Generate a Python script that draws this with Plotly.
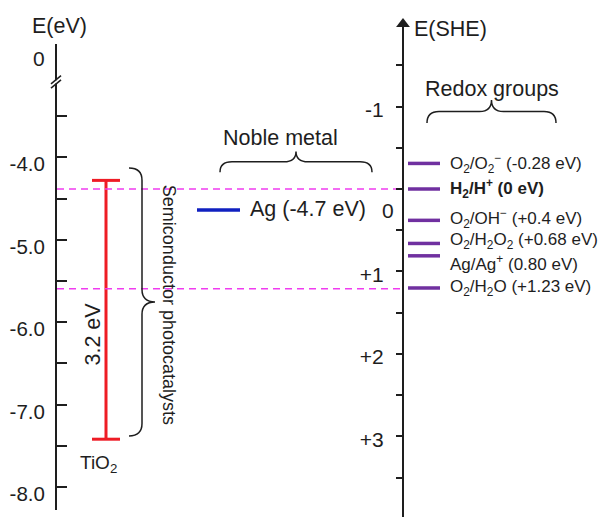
import plotly.graph_objects as go

# ---------------------------------------------------------
# 1. Data
# ---------------------------------------------------------
# left axis: absolute energy E(eV)
left_ticks = [-4, -5, -6, -7, -8]
left_tick_text = ["-4.0", "-5.0", "-6.0", "-7.0", "-8.0"]
left_minor = [-3.5, -4.5, -5.5, -6.5, -7.5]
left_break_top = -2.63          # broken axis: this tick stands for 0 eV

# right axis: E vs SHE
she_ticks = [-1, 0, 1, 2, 3]
she_tick_text = ["-1", "", "+1", "+2", "+3"]
she_minor = [-1.5, -0.5, 0.5, 1.5, 2.5, 3.5]

# TiO2 band edges and Ag work function (eV)
tio2_cb = -4.28
tio2_vb = -7.42
ag_level = -4.64

# redox couples (V vs SHE)
redox_levels = [-0.31, 0.0, 0.38, 0.66, 0.81, 1.2]
redox_label_pos = [-0.31, 0.0, 0.36, 0.63, 0.9, 1.2]
redox_labels = [
    "O<sub>2</sub>/O<sub>2</sub><sup>−</sup> (-0.28 eV)",
    "<b>H<sub>2</sub>/H<sup>+</sup> (0 eV)</b>",
    "O<sub>2</sub>/OH<sup>−</sup> (+0.4 eV)",
    "O<sub>2</sub>/H<sub>2</sub>O<sub>2</sub> (+0.68 eV)",
    "Ag/Ag<sup>+</sup> (0.80 eV)",
    "O<sub>2</sub>/H<sub>2</sub>O (+1.23 eV)",
]
dashed_levels = [0.0, 1.21]

FONT = "Liberation Sans, Arial, sans-serif"
INK = "#1e1e1e"
PURPLE = "#7030a0"
RED = "#ee1c25"
MAGENTA = "#f03cf0"


def hbrace(x1, x2, y_end, y_tip, r):
    ym = (y_end + y_tip) / 2
    xm = (x1 + x2) / 2
    return (f"M{x1},{y_end} Q{x1},{ym} {x1 + r},{ym} L{xm - r},{ym} "
            f"Q{xm},{ym} {xm},{y_tip} Q{xm},{ym} {xm + r},{ym} "
            f"L{x2 - r},{ym} Q{x2},{ym} {x2},{y_end}")


def vbrace(y1, y2, x_end, x_tip, r):
    xm = (x_end + x_tip) / 2
    ym = (y1 + y2) / 2
    return (f"M{x_end},{y1} Q{xm},{y1} {xm},{y1 - r} L{xm},{ym + r} "
            f"Q{xm},{ym} {x_tip},{ym} Q{xm},{ym} {xm},{ym - r} "
            f"L{xm},{y2 + r} Q{xm},{y2} {x_end},{y2}")


fig = go.Figure()

# ---------------------------------------------------------
# 2. Marks
# ---------------------------------------------------------
# dashed reference lines (H2/H+ and O2/H2O)
for lvl in dashed_levels:
    fig.add_trace(go.Scatter(
        x=[57, 403], y=[lvl, lvl], yaxis="y2", mode="lines",
        line=dict(color=MAGENTA, width=1.5, dash="7px,5px"),
        hoverinfo="skip"))

# TiO2 band gap
fig.add_trace(go.Scatter(
    x=[106, 106], y=[tio2_cb, tio2_vb], mode="lines+markers",
    line=dict(color=RED, width=3),
    marker=dict(symbol="line-ew", size=20, line=dict(color=RED, width=3)),
    hoverinfo="skip"))

# Ag level
fig.add_trace(go.Scatter(
    x=[197, 240], y=[ag_level, ag_level], mode="lines",
    line=dict(color="#1020c0", width=3.5), hoverinfo="skip"))

# redox levels
rx, ry = [], []
for lvl in redox_levels:
    rx += [408, 440, None]
    ry += [lvl, lvl, None]
fig.add_trace(go.Scatter(
    x=rx, y=ry, yaxis="y2", mode="lines",
    line=dict(color=PURPLE, width=3.5), hoverinfo="skip"))

# axis arrow heads
fig.add_trace(go.Scatter(
    x=[56], y=[-8.33], mode="markers", cliponaxis=False,
    marker=dict(symbol="triangle-down", size=12, color=INK), hoverinfo="skip"))
fig.add_trace(go.Scatter(
    x=[403], y=[-2.0], yaxis="y2", mode="markers", cliponaxis=False,
    marker=dict(symbol="triangle-up", size=12, color=INK), hoverinfo="skip"))

# ---------------------------------------------------------
# 3. Braces, axis break
# ---------------------------------------------------------
shapes = [
    dict(type="path", xref="x", yref="y",
         path=vbrace(-4.13, -7.38, 129, 155, 0.15),
         line=dict(color=INK, width=1.5)),
    dict(type="path", xref="x", yref="y",
         path=hbrace(220, 372, -4.18, -3.93, 12),
         line=dict(color=INK, width=1.5)),
    dict(type="path", xref="x", yref="y2",
         path=hbrace(427, 556, -0.8, -1.08, 12),
         line=dict(color=INK, width=1.5)),
    dict(type="rect", xref="x", yref="y", x0=53, x1=59, y0=-3.065, y1=-3.105,
         fillcolor="white", line=dict(width=0)),
    dict(type="line", xref="x", yref="y", x0=51, x1=61, y0=-3.11, y1=-3.01,
         line=dict(color=INK, width=1.5)),
    dict(type="line", xref="x", yref="y", x0=51, x1=61, y0=-3.16, y1=-3.06,
         line=dict(color=INK, width=1.5)),
]

# ---------------------------------------------------------
# 4. Text
# ---------------------------------------------------------
ann = [
    dict(x=59, y=0.950, yref="paper", text="E(eV)", font=dict(size=21.5)),
    dict(x=450, y=0.944, yref="paper", text="E(SHE)", font=dict(size=21.5)),
    dict(x=47, y=-2.8, yref="y", xanchor="right", text="0", font=dict(size=21)),
    dict(x=388, y=0.26, yref="y2", text="0", font=dict(size=21)),
    dict(x=492, y=-1.21, yref="y2", text="Redox groups", font=dict(size=21.5)),
    dict(x=280, y=-3.76, yref="y", text="Noble metal", font=dict(size=21.5)),
    dict(x=248, y=-4.63, yref="y", xanchor="left", text="Ag (-4.7 eV)", font=dict(size=21.5)),
    dict(x=93, y=-6.15, yref="y", text="3.2 eV", textangle=-90, font=dict(size=21.5)),
    dict(x=98, y=-7.72, yref="y", text="TiO<sub>2</sub>", font=dict(size=19)),
    dict(x=169, y=-5.79, yref="y", text="Semiconductor photocatalysts",
         textangle=90, font=dict(size=18)),
]
for lab, pos in zip(redox_labels, redox_label_pos):
    ann.append(dict(x=448, y=pos, yref="y2", xanchor="left", text=lab,
                    font=dict(size=17)))
for a in ann:
    a.setdefault("xref", "x")
    a.setdefault("xanchor", "center")
    a["yanchor"] = "middle"
    a["showarrow"] = False

all_left = left_ticks + left_minor + [left_break_top]
all_left_text = left_tick_text + [""] * len(left_minor) + [""]

fig.update_layout(
    width=600, height=521,
    margin=dict(l=0, r=0, t=0, b=0),
    paper_bgcolor="white", plot_bgcolor="rgba(0,0,0,0)",
    showlegend=False,
    font=dict(family=FONT, size=21, color=INK),
    xaxis=dict(range=[0, 600], domain=[0, 1], visible=False),
    yaxis=dict(
        domain=[0.0211, 0.9156], range=[-8.279, -2.625],
        anchor="free", position=56 / 600, side="left",
        showline=True, linecolor=INK, linewidth=2,
        ticks="inside", ticklen=10, tickwidth=2, tickcolor=INK,
        tickmode="array", tickvals=all_left, ticktext=all_left_text,
        showgrid=False, zeroline=False,
        ticklabelshift=7, ticklabelstandoff=6,
        tickfont=dict(size=20.5)),
    yaxis2=dict(
        domain=[0.0077, 0.9539], range=[3.976, -2.0],
        anchor="free", position=403 / 600, side="left",
        showline=True, linecolor=INK, linewidth=2,
        ticks="outside", ticklen=6, tickwidth=2, tickcolor=INK,
        tickmode="array", tickvals=she_ticks + she_minor,
        ticktext=she_tick_text + [""] * len(she_minor),
        showgrid=False, zeroline=False,
        ticklabelshift=-3, ticklabelstandoff=8,
        tickfont=dict(size=21)),
    shapes=shapes,
    annotations=ann,
)

fig.write_html("out.html", config={"displayModeBar": False},
               post_script="document.body.style.margin='0';")
